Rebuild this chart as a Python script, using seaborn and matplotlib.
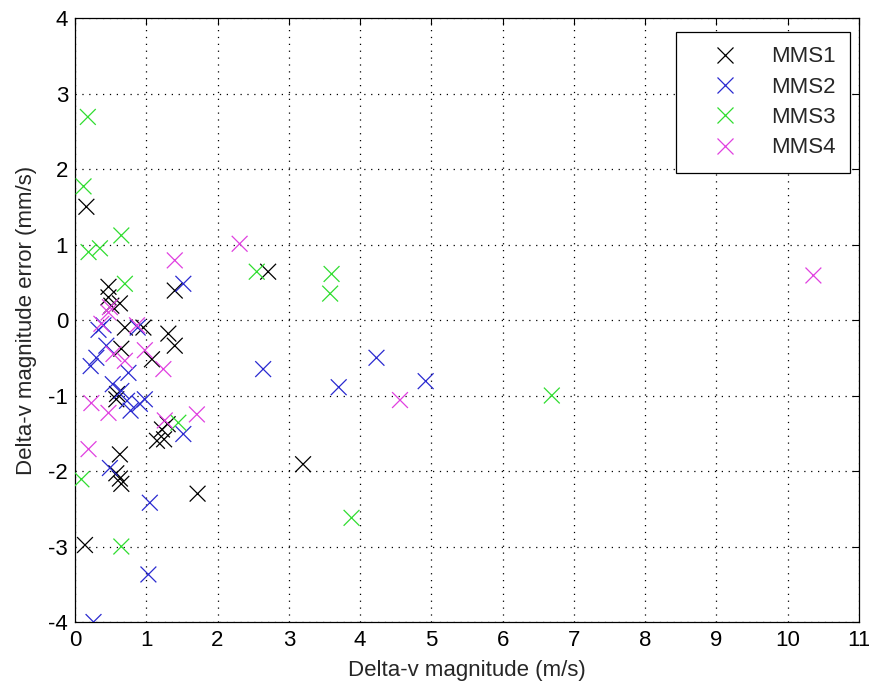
import matplotlib
matplotlib.use("Agg")
import matplotlib.pyplot as plt
import seaborn as sns
import pandas as pd
from matplotlib.lines import Line2D

series_names = ["MMS1", "MMS2", "MMS3", "MMS4"]

mms1_x = [0.16, 0.14, 0.47, 0.47, 0.51, 0.63, 0.70, 0.96, 1.31, 1.40, 1.40, 0.65, 1.08,
          0.58, 0.63, 1.15, 1.25, 1.22, 1.30, 0.58, 0.63, 0.65, 1.72, 2.71, 3.20, 0.59]
mms1_y = [1.50, -2.98, 0.44, 0.30, 0.19, 0.22, -0.10, -0.10, -0.18, 0.39, -0.34, -0.38, -0.52,
          -1.05, -1.78, -1.60, -1.58, -1.45, -1.38, -2.03, -2.10, -2.17, -2.30, 0.64, -1.91, -0.98]

mms2_x = [0.26, 1.03, 1.05, 0.49, 1.52, 1.52, 2.64, 3.70, 4.23, 4.92, 0.33, 0.88, 0.44,
          0.30, 0.22, 0.75, 0.53, 0.65, 0.73, 0.98, 0.91, 0.78, 0.40]
mms2_y = [-4.00, -3.37, -2.42, -1.96, -1.51, 0.48, -0.65, -0.89, -0.50, -0.81, -0.13, -0.10, -0.34,
          -0.50, -0.61, -0.70, -0.85, -0.94, -1.07, -1.05, -1.11, -1.20, -0.07]

mms3_x = [0.18, 0.12, 0.19, 0.35, 0.65, 0.70, 2.55, 3.60, 3.58, 1.45, 0.09, 0.65, 3.88, 6.69]
mms3_y = [2.69, 1.77, 0.90, 0.95, 1.12, 0.48, 0.64, 0.61, 0.35, -1.36, -2.11, -3.00, -2.62, -1.00]

mms4_x = [2.31, 1.40, 0.49, 0.47, 0.37, 0.87, 0.98, 0.54, 0.70, 1.24, 0.23, 0.47, 1.26,
          1.71, 0.19, 4.56, 10.36]
mms4_y = [1.01, 0.79, 0.17, 0.10, -0.05, -0.07, -0.40, -0.45, -0.54, -0.65, -1.10, -1.23, -1.33,
          -1.25, -1.71, -1.06, 0.59]

x_ticks = list(range(0, 12))
y_ticks = list(range(-4, 5))

colors = ["#000000", "#2a2ad0", "#30dd30", "#e040e0"]

frames = []
for name, xs, ys in zip(series_names,
                        [mms1_x, mms2_x, mms3_x, mms4_x],
                        [mms1_y, mms2_y, mms3_y, mms4_y]):
    frames.append(pd.DataFrame({"dv": xs, "err": ys, "series": name}))
df = pd.concat(frames, ignore_index=True)

sns.set_style("white")
plt.rcParams["font.family"] = ["Liberation Sans", "DejaVu Sans"]
plt.rcParams["axes.unicode_minus"] = False

FS = 16

fig = plt.figure(figsize=(8.69, 6.88), dpi=100)
ax = fig.add_axes([0.0863, 0.0959, 0.9022, 0.8779])

palette = dict(zip(series_names, colors))
sns.scatterplot(data=df, x="dv", y="err", hue="series", hue_order=series_names,
                palette=palette, marker="x", s=130, linewidth=0.9, ax=ax, legend=False,
                zorder=3)

ax.set_xlim(0, 11)
ax.set_ylim(-4, 4)
ax.set_xticks(x_ticks)
ax.set_yticks(y_ticks)
ax.grid(True, linestyle=(0, (1, 4.5)), color="black", linewidth=0.9)
ax.tick_params(direction="in", top=True, right=True, length=5, width=0.8,
               labelsize=FS, colors="black")
ax.tick_params(axis="x", pad=5.5)
ax.tick_params(axis="y", pad=5)
for sp in ax.spines.values():
    sp.set_color("black")
    sp.set_linewidth(0.9)
ax.set_xlabel("Delta-v magnitude (m/s)", fontsize=FS, labelpad=7)
ax.set_ylabel("Delta-v magnitude error (mm/s)", fontsize=FS, labelpad=8)

handles = [Line2D([], [], linestyle="none", marker="x", markersize=12,
                  markeredgewidth=0.9, color=c) for c in colors]
leg = ax.legend(handles, series_names, loc="upper right", bbox_to_anchor=(0.9885, 0.977),
                fancybox=False, edgecolor="black", framealpha=1, fontsize=FS,
                borderpad=0.65, labelspacing=0.42, handlelength=3.05, handletextpad=0.55,
                borderaxespad=0)
leg.get_frame().set_linewidth(0.9)

fig.savefig("out.png", dpi=100, facecolor="white")
